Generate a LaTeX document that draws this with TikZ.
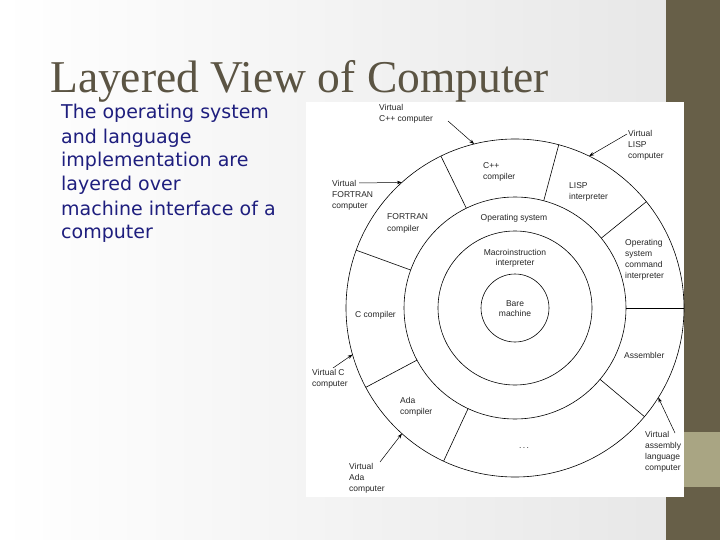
\documentclass[tikz,border=0pt]{standalone}
\usepackage{fontspec}
\setmainfont{Liberation Serif}
\newfontfamily\labelfont{Liberation Sans}
\newfontfamily\bodyfont{DejaVu Sans}
\usetikzlibrary{calc,arrows.meta}
\definecolor{stripc}{HTML}{675F48}
\definecolor{bandc}{HTML}{A9A583}
\definecolor{titlec}{HTML}{5B5443}
\definecolor{bodyc}{HTML}{1E1E7E}
\definecolor{figtext}{HTML}{262626}
\begin{document}
\begin{tikzpicture}[x=1pt,y=-1pt,
  lbl/.style={font=\labelfont\fontsize{8.5}{11}\selectfont, text=figtext, inner sep=0pt, align=left, anchor=base west},
  clbl/.style={font=\labelfont\fontsize{8.5}{10.5}\selectfont, text=figtext, inner sep=0pt, align=center, anchor=base},
  ring/.style={draw=black, line width=0.6pt},
  va/.style={-{Stealth[length=5pt,width=3.5pt]}, line width=0.5pt, draw=black}]
\useasboundingbox (0,0) rectangle (720,540);
% background
\shade[left color=white, right color=black!10] (0,0) rectangle (720,540);
\fill[stripc] (666,0) rectangle (720,540);
\fill[bandc] (666,432) rectangle (720,487);
\fill[white] (306,102) rectangle (684,497);
% title and body (base anchor = baseline of the last line)
\node[font=\fontsize{45.5}{45.5}\selectfont, text=titlec, inner sep=0pt, anchor=base west] (title) at (50,93) {Layered View of Computer};
\node[font=\bodyfont\fontsize{19}{24}\selectfont, text=bodyc, inner sep=0pt, align=left, anchor=base west] (body) at (61,239)
  {The operating system\\and language\\implementation are\\layered over\\machine interface of a\\computer};
% rings
\coordinate (C) at (515,308);
\draw[ring] (C) circle[radius=34pt];
\draw[ring] (C) circle[radius=77pt];
\draw[ring] (C) circle[radius=111pt];
\draw[ring] (C) circle[radius=169pt];
\foreach \a in {116,75,39,0,-40,-115,-152,160}
  \draw[ring] ([shift={(\a:111pt)}]C) -- ([shift={(\a:169pt)}]C);
% inner labels
\node[clbl] (bare) at (515,316.5) {Bare\\machine};
\node[clbl] (macro) at (515,265.5) {Macroinstruction\\interpreter};
\node[clbl] (os) at (514,221) {Operating system};
\node[lbl] (cpp) at (483,180) {C++\\compiler};
\node[lbl] (lisp) at (569,200) {LISP\\interpreter};
\node[lbl] (fortran) at (387,231) {FORTRAN\\compiler};
\node[lbl] (osci) at (625,278) {Operating\\system\\command\\interpreter};
\node[lbl] (asm) at (624,358) {Assembler};
\node[lbl] (cc) at (355,317) {C compiler};
\node[lbl] (ada) at (400,414) {Ada\\compiler};
\node[clbl] (dots) at (524,448) {.\,.\,.};
% outer labels
\node[lbl] (vcpp) at (379,122) {Virtual\\C++ computer};
\node[lbl] (vlisp) at (628,159) {Virtual\\LISP\\computer};
\node[lbl] (vfortran) at (332,209) {Virtual\\FORTRAN\\computer};
\node[lbl] (vc) at (312,386) {Virtual C\\computer};
\node[lbl] (vada) at (349,491) {Virtual\\Ada\\computer};
\node[lbl] (vasm) at (645,470) {Virtual\\assembly\\language\\computer};
% arrows
\coordinate (sCpp) at (448,121);
\coordinate (eCpp) at ([shift={(104:169pt)}]C);
\coordinate (sFor) at (359,183);
\coordinate (eFor) at ([shift={(132:169pt)}]C);
\coordinate (sLisp) at (627,134);
\coordinate (eLisp) at ([shift={(64:169pt)}]C);
\coordinate (sC) at (333,368);
\coordinate (eC) at ([shift={(196:169pt)}]C);
\coordinate (sAda) at (380,462);
\coordinate (eAda) at ([shift={(228:169pt)}]C);
\coordinate (sAsm) at (675,433);
\coordinate (eAsm) at ([shift={(-32:169pt)}]C);
\draw[va] (sCpp) -- (eCpp);
\draw[va] (sFor) -- (eFor);
\draw[va] (sLisp) -- (eLisp);
\draw[va] (sC) -- (eC);
\draw[va] (sAda) -- (eAda);
\draw[va] (sAsm) -- (eAsm);
\end{tikzpicture}
\end{document}
